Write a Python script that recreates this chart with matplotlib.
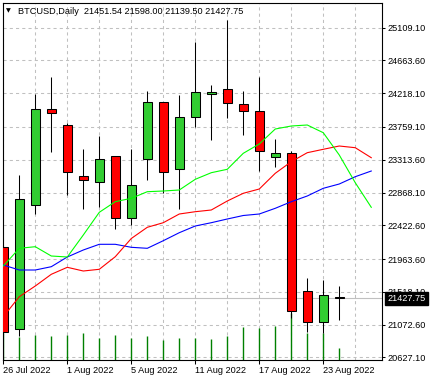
import matplotlib
matplotlib.use('Agg')
import matplotlib.pyplot as plt
from matplotlib.patches import Rectangle
from datetime import datetime

plt.rcParams['font.family'] = ['Liberation Sans', 'DejaVu Sans']

# daily bars (weekends skipped)
dates = ['2022-07-26', '2022-07-27', '2022-07-28', '2022-07-29',
         '2022-08-01', '2022-08-02', '2022-08-03', '2022-08-04', '2022-08-05',
         '2022-08-08', '2022-08-09', '2022-08-10', '2022-08-11', '2022-08-12',
         '2022-08-15', '2022-08-16', '2022-08-17', '2022-08-18', '2022-08-19',
         '2022-08-22', '2022-08-23', '2022-08-24']
opens = [22131.2, 21008.2, 22698.2, 23999.3, 23781.8, 23088.4, 23006.8, 23360.3,
         22525.5, 23319.5, 24094.5, 23183.6, 23890.5, 24203.2, 24271.2, 24067.3,
         23972.1, 23346.7, 23401.1, 21524.8, 21103.4, 21451.54]
highs = [22160.0, 23106.1, 24203.2, 24434.4, 23817.1, 23459.6, 23636.3, 23371.0,
         23459.6, 24248.1, 24105.0, 24189.6, 24910.3, 24329.7, 25213.4, 24248.1,
         24434.4, 23591.4, 23432.4, 21701.6, 21678.5, 21598.00]
lows = [20940.0, 20917.1, 22571.7, 23422.8, 22834.1, 22643.8, 22666.9, 22371.9,
        22426.3, 23038.1, 22857.3, 22643.8, 23762.7, 23586.0, 23876.9, 23654.0,
        23164.5, 23218.9, 21160.0, 20967.4, 20953.8, 21139.50]
closes = [20967.4, 22775.7, 23999.3, 23944.9, 23150.9, 23034.0, 23319.5, 22517.3,
          22966.0, 24094.5, 23142.8, 23890.5, 24230.4, 24230.4, 24080.9, 23972.1,
          23428.3, 23401.1, 21252.9, 21103.4, 21470.5, 21427.75]
volumes = [26.4, 23.0, 24.7, 23.7, 24.7, 26.7, 21.7, 24.7, 21.7, 23.7, 20.0,
           21.7, 21.7, 20.7, 23.7, 32.7, 31.7, 34.0, 46.4, 27.0, 26.4, 12.0]

# Alligator lines, shifted forward so they run past the last bar
lips = [21868.8, 22109.5, 22131.2, 22004.8, 21991.2, 22290.3, 22598.9, 22743.1,
        22789.3, 22879.0, 22888.5, 22902.1, 23047.6, 23137.3, 23183.6, 23401.1,
        23527.5, 23731.5, 23772.3, 23785.9, 23681.2, 23378.0, 23001.4, 22666.9]
teeth = [21179.5, 21451.4, 21596.9, 21756.0, 21851.1, 21800.8, 21824.0, 21995.3,
         22242.7, 22395.0, 22457.5, 22575.8, 22607.1, 22630.2, 22752.6, 22857.3,
         22915.7, 23129.2, 23286.9, 23409.3, 23455.5, 23500.3, 23477.2, 23341.3]
jaw = [21882.4, 21814.4, 21814.4, 21859.3, 21991.2, 22086.4, 22163.9, 22163.9,
       22123.1, 22109.5, 22212.8, 22321.6, 22412.7, 22457.5, 22507.8, 22555.4,
       22575.8, 22653.3, 22743.1, 22820.6, 22925.2, 22983.7, 23083.0, 23160.4]

price_ticks = [25109.10, 24663.60, 24218.10, 23759.10, 23313.60, 22868.10,
               22422.60, 21963.60, 21518.10, 21072.60, 20627.10]
label_bars = [0, 4, 8, 12, 16, 20]

symbol = 'BTCUSD,Daily'

fig = plt.figure(figsize=(4.32, 3.81), dpi=100)
fig.patch.set_facecolor('white')
W, H = 432.0, 381.0
ax = fig.add_axes([2.7 / W, 1 - 359.7 / H, (381.5 - 2.7) / W, (359.7 - 2.5) / H])

n = len(closes)
body_w = 0.57
for i in range(n):
    o, h, l, c = opens[i], highs[i], lows[i], closes[i]
    col = '#32CD32' if c >= o else '#FF0000'
    ax.vlines(i, l, h, color='black', lw=0.75, zorder=3)
    ax.add_patch(Rectangle((i - body_w / 2, min(o, c)), body_w, max(abs(c - o), 1.0),
                           facecolor=col, edgecolor='black', lw=0.75, zorder=4))

# volumes along the bottom
vmax = max(volumes)
ax.vlines(range(n), 0, [v / vmax * 0.13 for v in volumes],
          transform=ax.get_xaxis_transform(), color='#008000', lw=1.0, zorder=2)

xs = range(len(lips))
ax.plot(xs, jaw, color='#0000FF', lw=0.8, zorder=5)
ax.plot(xs, teeth, color='#FF0000', lw=0.8, zorder=5)
ax.plot(xs, lips, color='#00FF00', lw=0.8, zorder=5)

ax.axhline(closes[-1], color='#C0C0C0', lw=0.8, zorder=1)

ax.set_xlim(-0.0375, 23.64)
ax.set_ylim(20594.9, 25451.4)

ax.set_axisbelow(True)
ax.yaxis.tick_right()
ax.set_yticks(price_ticks)
ax.set_yticklabels(['%.2f' % p for p in price_ticks])
ax.set_xticks(label_bars)
labels = []
for b in label_bars:
    d = datetime.strptime(dates[b], '%Y-%m-%d')
    labels.append('%d %s' % (d.day, d.strftime('%b %Y')))
ax.set_xticklabels(labels, ha='left')
ax.set_xticks(range(0, 24, 2), minor=True)

ax.grid(axis='y', color='#C0C0C0', ls=(0, (3, 3)), lw=0.75)
ax.grid(axis='x', which='both', color='#C0C0C0', ls=(0, (3, 3)), lw=0.75)

ax.tick_params(axis='y', which='major', length=2.5, width=0.75, pad=1.5,
               labelsize=6.6, colors='black')
ax.tick_params(axis='x', which='major', length=3, width=0.75, pad=1.5,
               labelsize=6.6, colors='black')
ax.tick_params(axis='x', which='minor', length=0)
for s in ax.spines.values():
    s.set_linewidth(0.8)
    s.set_color('black')

# current price box
ax.text(1.0155, closes[-1], '%.2f' % closes[-1], transform=ax.get_yaxis_transform(),
        ha='left', va='center', fontsize=6.6, color='white', zorder=10,
        bbox=dict(boxstyle='square,pad=0.22', facecolor='black', edgecolor='black'))

# header
fig.text(8.3 / W, 1 - 11.0 / H, '\u25BC', family='DejaVu Sans', fontsize=4.5,
         ha='center', va='center', color='black')
header = '%s  %.2f %.2f %.2f %.2f' % (symbol, opens[-1], highs[-1], lows[-1], closes[-1])
fig.text(18.3 / W, 1 - 11.0 / H, header, fontsize=6.6, ha='left', va='center',
         color='black')

fig.savefig('out.png', dpi=100, facecolor='white')
